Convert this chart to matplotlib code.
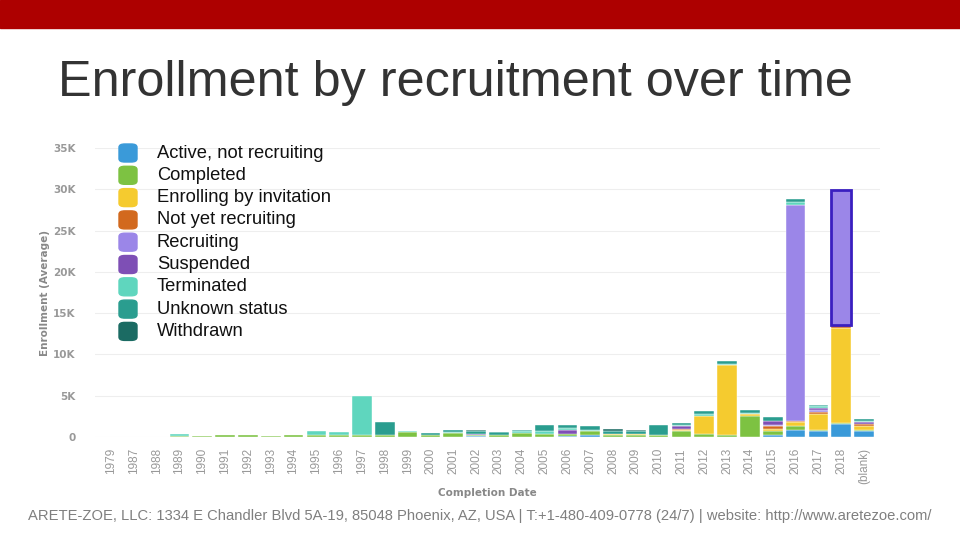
import numpy as np
import matplotlib.pyplot as plt
from matplotlib.patches import FancyBboxPatch, Rectangle

# === 1. Datos (en miles) ===
years = ["1979", "1987", "1988"] + [str(y) for y in range(1989, 2019)] + ["(blank)"]

active = [0, 0, 0, 0, 0, 0, 0, 0, 0, 0, 0, 0, 0, 0, 0, 0, 0.1, 0, 0, 0, 0.1, 0.3, 0, 0, 0, 0,
          0, 0, 0, 0.3, 0.9, 0.7, 1.6, 0.7]
completed = [0, 0, 0, 0.15, 0.15, 0.25, 0.25, 0.15, 0.25, 0.3, 0.3, 0.3, 0.2, 0.6, 0.2, 0.5, 0.2, 0.3,
             0.5, 0.4, 0.3, 0.4, 0.3, 0.3, 0.2, 0.7, 0.4, 0.3, 2.5, 0.4, 0.4, 0.1, 0.05, 0.2]
enrolling = [0, 0, 0, 0, 0, 0, 0, 0, 0, 0, 0, 0, 0, 0, 0, 0, 0, 0, 0, 0, 0, 0, 0.1, 0.1, 0, 0.1,
             2.2, 8.4, 0.3, 0.3, 0.5, 2.0, 11.5, 0.4]
not_yet = [0, 0, 0, 0, 0, 0, 0, 0, 0, 0, 0, 0, 0, 0, 0, 0, 0, 0, 0, 0, 0, 0, 0, 0, 0, 0.2,
           0, 0, 0, 0.3, 0.1, 0.25, 0.4, 0.3]
recruiting = [0, 0, 0, 0, 0, 0, 0, 0, 0, 0, 0, 0, 0, 0, 0, 0, 0, 0, 0, 0, 0, 0, 0, 0, 0, 0,
              0, 0, 0, 0.2, 26.2, 0.2, 16.4, 0]
suspended = [0, 0, 0, 0, 0, 0, 0, 0, 0, 0, 0, 0, 0, 0, 0, 0, 0.1, 0, 0, 0, 0.4, 0, 0, 0, 0, 0.3,
             0, 0, 0, 0.4, 0, 0.3, 0, 0.2]
terminated = [0, 0, 0, 0.2, 0, 0, 0, 0, 0, 0.45, 0.35, 4.7, 0, 0.15, 0, 0.15, 0, 0, 0.2, 0.3,
              0.3, 0.2, 0, 0, 0.1, 0.2, 0.15, 0.2, 0.1, 0, 0.3, 0.2, 0, 0.1]
unknown = [0, 0, 0, 0, 0, 0, 0, 0, 0, 0, 0, 0, 1.6, 0, 0.3, 0.2, 0.3, 0.25, 0.15, 0.7, 0.35,
           0.4, 0.3, 0.3, 1.1, 0.2, 0.35, 0.3, 0.4, 0.5, 0.4, 0.1, 0, 0.3]
withdrawn = [0, 0, 0, 0, 0, 0, 0, 0, 0, 0, 0, 0, 0, 0, 0, 0, 0.1, 0.05, 0, 0, 0, 0, 0.3, 0.2, 0, 0,
             0, 0, 0, 0, 0, 0, 0, 0]

labels = ["Active, not recruiting", "Completed", "Enrolling by invitation", "Not yet recruiting",
          "Recruiting", "Suspended", "Terminated", "Unknown status", "Withdrawn"]
series = [active, completed, enrolling, not_yet, recruiting, suspended, terminated, unknown, withdrawn]
colors = ["#3a9ad9", "#7dc242", "#f5cb2f", "#d2691e", "#9b86e8", "#7e4fb5", "#5fd6be", "#2a9d8f", "#1b6b63"]

# === 2. Figura ===
fig = plt.figure(figsize=(9.6, 5.4), dpi=100)
fig.patches.append(Rectangle((0, 1 - 28 / 540), 1, 28 / 540, transform=fig.transFigure,
                             color="#ad0000", zorder=0))
fig.text(58 / 960, 1 - 83 / 540, "Enrollment by recruitment over time", fontsize=36.3,
         color="#333333", va="center", ha="left", family="Liberation Sans")
fig.text(480 / 960, 1 - 516 / 540,
         "ARETE-ZOE, LLC: 1334 E Chandler Blvd 5A-19, 85048 Phoenix, AZ, USA | T:+1-480-409-0778 (24/7) | website: http://www.aretezoe.com/",
         fontsize=10.6, color="#7f7f7f", ha="center", va="center", family="Liberation Sans")

ax = fig.add_axes([95 / 960, 1 - 437 / 540, 785 / 960, 289 / 540])
x = np.arange(len(years))
bottom = np.zeros(len(years))
for vals, lab, col in zip(series, labels, colors):
    v = np.array(vals)
    m = v > 0
    ax.bar(x[m], v[m], bottom=bottom[m], width=0.86, color=col, edgecolor="white",
           linewidth=0.3, label=lab, zorder=3)
    bottom += v

# Segmento resaltado de 2018
i18 = years.index("2018")
base18 = sum(s[i18] for s in series[:4])
ax.bar(x[i18], recruiting[i18], bottom=base18, width=0.86, facecolor="none",
       edgecolor="#3a1fc0", linewidth=2, zorder=4)

ax.set_ylim(0, 35)
ax.set_xlim(-0.7, len(years) - 0.3)
ax.set_yticks(np.arange(0, 36, 5))
ax.set_yticklabels(["0"] + [f"{v}K" for v in range(5, 36, 5)])
ax.set_xticks(x)
ax.set_xticklabels(years, rotation=90)
ax.tick_params(axis="both", length=0, colors="#999999", labelsize=7.5)
ax.tick_params(axis="y", pad=14)
ax.tick_params(axis="x", pad=8)
for t in ax.get_yticklabels():
    t.set_fontweight("bold")
for t in ax.get_xticklabels():
    t.set_family("Liberation Sans")
    t.set_fontsize(8.5)
ax.grid(axis="y", color="#eeeeee", linewidth=0.8, zorder=0)
for s in ax.spines.values():
    s.set_visible(False)
ax.set_ylabel("Enrollment (Average)", fontsize=7.5, color="#888888", fontweight="bold", labelpad=2)
ax.set_xlabel("Completion Date", fontsize=7.5, color="#888888", fontweight="bold", labelpad=3)

# === 3. Leyenda ===
for k, (lab, col) in enumerate(zip(labels, colors)):
    yc = 153 + k * 22.3
    fig.patches.append(FancyBboxPatch((119 / 960, 1 - (yc + 9) / 540), 18 / 960, 18 / 540,
                                      boxstyle="round,pad=0,rounding_size=0.006",
                                      transform=fig.transFigure, color=col, zorder=5))
    fig.text(157 / 960, 1 - yc / 540, lab, fontsize=13.2, color="#111111", va="center",
             ha="left", family="Liberation Sans")

plt.savefig("out.png", dpi=100)
plt.close()
